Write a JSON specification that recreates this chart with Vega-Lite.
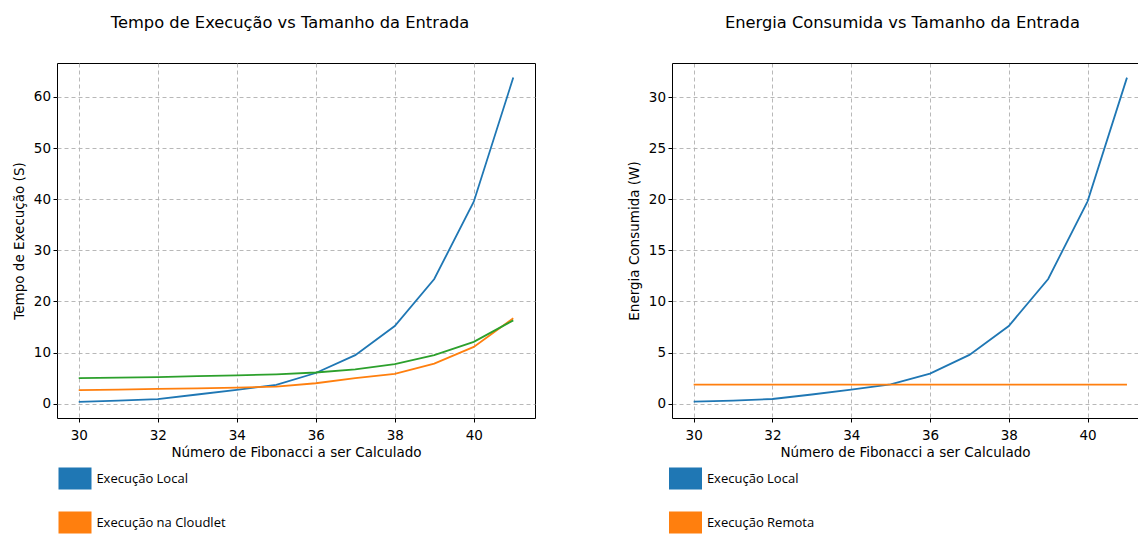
{
  "$schema": "https://vega.github.io/schema/vega-lite/v6.json",
  "padding": {"left": 12, "top": 14, "right": 0, "bottom": 0},
  "background": "white",
  "datasets": {
    "tempo": [
      {"n": 30, "t": 0.35, "serie": "Execução Local"},
      {"n": 31, "t": 0.6, "serie": "Execução Local"},
      {"n": 32, "t": 0.9, "serie": "Execução Local"},
      {"n": 33, "t": 1.8, "serie": "Execução Local"},
      {"n": 34, "t": 2.7, "serie": "Execução Local"},
      {"n": 35, "t": 3.7, "serie": "Execução Local"},
      {"n": 36, "t": 6.0, "serie": "Execução Local"},
      {"n": 37, "t": 9.5, "serie": "Execução Local"},
      {"n": 38, "t": 15.2, "serie": "Execução Local"},
      {"n": 39, "t": 24.4, "serie": "Execução Local"},
      {"n": 40, "t": 39.5, "serie": "Execução Local"},
      {"n": 41, "t": 63.8, "serie": "Execução Local"},
      {"n": 30, "t": 2.65, "serie": "Execução na Cloudlet"},
      {"n": 31, "t": 2.75, "serie": "Execução na Cloudlet"},
      {"n": 32, "t": 2.9, "serie": "Execução na Cloudlet"},
      {"n": 33, "t": 3.0, "serie": "Execução na Cloudlet"},
      {"n": 34, "t": 3.15, "serie": "Execução na Cloudlet"},
      {"n": 35, "t": 3.35, "serie": "Execução na Cloudlet"},
      {"n": 36, "t": 4.0, "serie": "Execução na Cloudlet"},
      {"n": 37, "t": 5.0, "serie": "Execução na Cloudlet"},
      {"n": 38, "t": 5.85, "serie": "Execução na Cloudlet"},
      {"n": 39, "t": 7.85, "serie": "Execução na Cloudlet"},
      {"n": 40, "t": 11.1, "serie": "Execução na Cloudlet"},
      {"n": 41, "t": 16.7, "serie": "Execução na Cloudlet"},
      {"n": 30, "t": 5.0, "serie": "Execução na Nuvem"},
      {"n": 31, "t": 5.1, "serie": "Execução na Nuvem"},
      {"n": 32, "t": 5.2, "serie": "Execução na Nuvem"},
      {"n": 33, "t": 5.4, "serie": "Execução na Nuvem"},
      {"n": 34, "t": 5.55, "serie": "Execução na Nuvem"},
      {"n": 35, "t": 5.75, "serie": "Execução na Nuvem"},
      {"n": 36, "t": 6.1, "serie": "Execução na Nuvem"},
      {"n": 37, "t": 6.7, "serie": "Execução na Nuvem"},
      {"n": 38, "t": 7.75, "serie": "Execução na Nuvem"},
      {"n": 39, "t": 9.5, "serie": "Execução na Nuvem"},
      {"n": 40, "t": 12.1, "serie": "Execução na Nuvem"},
      {"n": 41, "t": 16.3, "serie": "Execução na Nuvem"}
    ],
    "energia": [
      {"n": 30, "e": 0.2, "serie": "Execução Local"},
      {"n": 31, "e": 0.3, "serie": "Execução Local"},
      {"n": 32, "e": 0.46, "serie": "Execução Local"},
      {"n": 33, "e": 0.9, "serie": "Execução Local"},
      {"n": 34, "e": 1.37, "serie": "Execução Local"},
      {"n": 35, "e": 1.9, "serie": "Execução Local"},
      {"n": 36, "e": 2.94, "serie": "Execução Local"},
      {"n": 37, "e": 4.77, "serie": "Execução Local"},
      {"n": 38, "e": 7.6, "serie": "Execução Local"},
      {"n": 39, "e": 12.2, "serie": "Execução Local"},
      {"n": 40, "e": 19.8, "serie": "Execução Local"},
      {"n": 41, "e": 31.9, "serie": "Execução Local"},
      {"n": 30, "e": 1.86, "serie": "Execução Remota"},
      {"n": 31, "e": 1.86, "serie": "Execução Remota"},
      {"n": 32, "e": 1.86, "serie": "Execução Remota"},
      {"n": 33, "e": 1.86, "serie": "Execução Remota"},
      {"n": 34, "e": 1.86, "serie": "Execução Remota"},
      {"n": 35, "e": 1.86, "serie": "Execução Remota"},
      {"n": 36, "e": 1.86, "serie": "Execução Remota"},
      {"n": 37, "e": 1.86, "serie": "Execução Remota"},
      {"n": 38, "e": 1.86, "serie": "Execução Remota"},
      {"n": 39, "e": 1.86, "serie": "Execução Remota"},
      {"n": 40, "e": 1.86, "serie": "Execução Remota"},
      {"n": 41, "e": 1.86, "serie": "Execução Remota"}
    ]
  },
  "config": {
    "font": "DejaVu Sans",
    "view": {"stroke": "#000", "strokeWidth": 1},
    "axis": {
      "domain": false,
      "domainColor": "#000",
      "domainWidth": 1,
      "grid": true,
      "gridColor": "#b0b0b0",
      "gridDash": [4, 3],
      "gridWidth": 0.9,
      "tickColor": "#000",
      "tickSize": 4,
      "tickWidth": 1,
      "labelFont": "DejaVu Sans",
      "labelFontSize": 13.5,
      "labelColor": "#000",
      "labelPadding": 2.5,
      "labelFlush": false,
      "labelOverlap": false,
      "titleFont": "DejaVu Sans",
      "titleFontSize": 13.5,
      "titleFontWeight": "normal",
      "titleColor": "#000",
      "titlePadding": 6.5
    },
    "axisX": {"labelPadding": 6, "titlePadding": 4},
    "legend": {
      "orient": "none",
      "direction": "vertical",
      "title": null,
      "padding": 0,
      "symbolType": "M-1,-0.5H1V0.5H-1Z",
      "symbolSize": 484,
      "symbolStrokeWidth": 11,
      "symbolOpacity": 1,
      "labelFont": "Open Sans",
      "labelFontSize": 13,
      "labelColor": "#000",
      "labelOffset": 4.9,
      "rowPadding": -32
    },
    "title": {
      "font": "DejaVu Sans",
      "fontSize": 16.3,
      "fontWeight": "normal",
      "color": "#000",
      "offset": 32,
      "anchor": "middle"
    }
  },
  "spacing": 91,
  "hconcat": [
    {
      "width": 478,
      "height": 355,
      "title": {"text": "Tempo de Execução vs Tamanho da Entrada", "dx": -6},
      "data": {"name": "tempo"},
      "mark": {"type": "line"},
      "encoding": {
        "x": {
          "field": "n",
          "type": "quantitative",
          "scale": {"domain": [29.45, 41.55], "nice": false, "zero": false},
          "axis": {"values": [30, 32, 34, 36, 38, 40], "title": "Número de Fibonacci a ser Calculado"}
        },
        "y": {
          "field": "t",
          "type": "quantitative",
          "scale": {"domain": [-2.8, 66.65], "nice": false, "zero": false},
          "axis": {"values": [0, 10, 20, 30, 40, 50, 60], "title": "Tempo de Execução (S)"}
        },
        "strokeWidth": {"value": 1.8},
        "color": {
          "field": "serie",
          "type": "nominal",
          "scale": {
            "domain": ["Execução Local", "Execução na Cloudlet", "Execução na Nuvem"],
            "range": ["#1f77b4", "#ff7f0e", "#2ca02c"]
          },
          "legend": {"legendX": 1.5, "legendY": 399}
        }
      }
    },
    {
      "width": 466,
      "height": 355,
      "view": {"stroke": null},
      "title": {"text": "Energia Consumida vs Tamanho da Entrada", "dx": -2.6},
      "data": {"name": "energia"},
      "layer": [
        {
          "mark": {"type": "line"},
          "encoding": {
            "x": {
              "field": "n",
              "type": "quantitative",
              "scale": {"domain": [29.45, 41.28], "nice": false, "zero": false},
              "axis": {"values": [30, 32, 34, 36, 38, 40], "title": "Número de Fibonacci a ser Calculado", "domain": true}
            },
            "y": {
              "field": "e",
              "type": "quantitative",
              "scale": {"domain": [-1.4, 33.33], "nice": false, "zero": false},
              "axis": {"values": [0, 5, 10, 15, 20, 25, 30], "title": "Energia Consumida (W)", "domain": true}
            },
            "strokeWidth": {"value": 1.8},
            "color": {
              "field": "serie",
              "type": "nominal",
              "scale": {
                "domain": ["Execução Local", "Execução Remota"],
                "range": ["#1f77b4", "#ff7f0e"]
              },
              "legend": {"legendX": -3, "legendY": 399}
            }
          }
        },
        {
          "mark": {"type": "line", "opacity": 0},
          "encoding": {
            "x": {
              "field": "n",
              "type": "quantitative",
              "scale": {"domain": [29.45, 41.28], "nice": false, "zero": false},
              "axis": {"orient": "top", "domain": true, "labels": false, "ticks": false, "grid": false, "title": null}
            },
            "y": {
              "field": "e",
              "type": "quantitative"
            }
          }
        }
      ],
      "resolve": {"axis": {"x": "independent"}}
    }
  ],
  "resolve": {
    "scale": {"color": "independent", "x": "independent", "y": "independent"},
    "axis": {"x": "independent", "y": "independent"},
    "legend": {"color": "independent"}
  }
}
